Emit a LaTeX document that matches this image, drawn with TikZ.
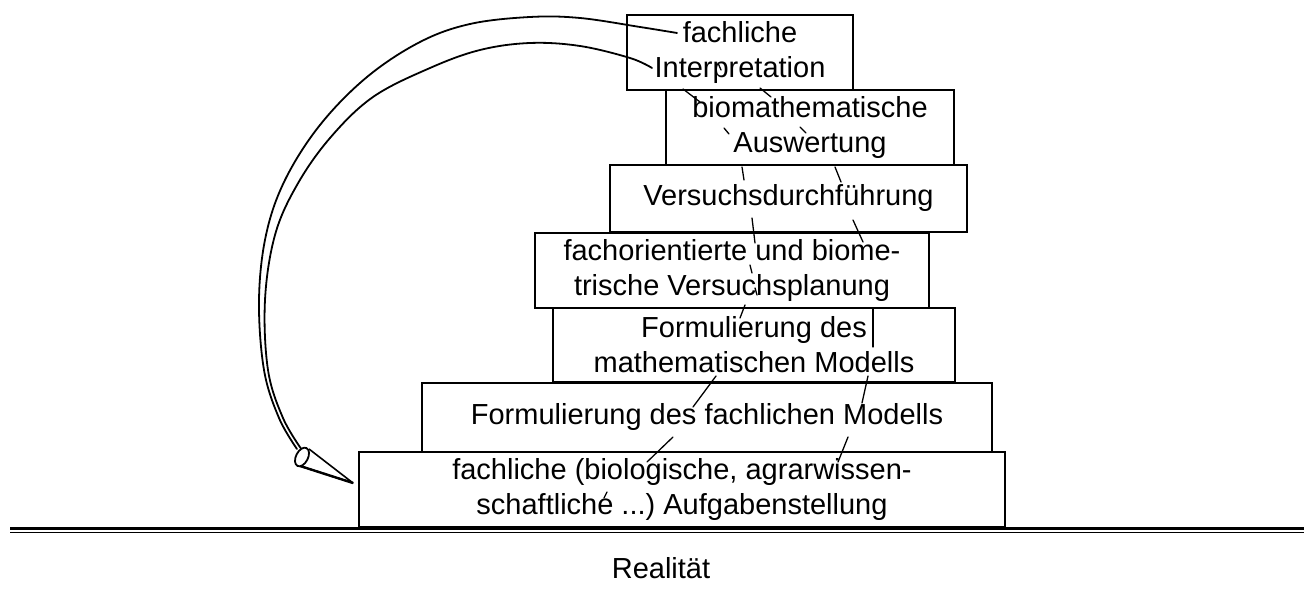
\documentclass[tikz,border=0pt]{standalone}
\usepackage{fontspec}
\setmainfont{Liberation Sans}
\frenchspacing
\begin{document}
\begin{tikzpicture}[x=1pt,y=-1pt,
  stair/.style={draw, line width=2pt, rectangle, inner sep=0pt, align=center,
    font=\fontsize{29}{35}\selectfont},
  tick/.style={line width=1.3pt, line cap=round},
  curve/.style={line width=1.8pt, line cap=round}]
\useasboundingbox (0,0) rectangle (1304,601);
% boxes
\node[stair, minimum width=226, minimum height=75] (b1) at (740,52.5) {fachliche\\Interpretation};
\node[stair, minimum width=288, minimum height=75] (b2) at (810,127.5) {biomathematische\\Auswertung};
\node[stair, minimum width=357, minimum height=67] (b3) at (788.5,198.5) {Versuchsdurchführung};
\node[stair, minimum width=394, minimum height=75] (b4) at (732,270.5) {fachorientierte und biome-\\trische Versuchsplanung};
\node[stair, minimum width=402, minimum height=74] (b5) at (754,345) {Formulierung des\\mathematischen Modells};
\node[stair, minimum width=570, minimum height=69] (b6) at (707,417.5) {Formulierung des fachlichen Modells};
\node[stair, minimum width=646, minimum height=75] (b7) at (682,489.5) {fachliche (biologische, agrarwissen-\\schaftliche ...)\ Aufgabenstellung};
% ground
\coordinate (gl) at (10,528);
\coordinate (gr) at (1304,528);
\draw[line width=3pt] (gl) -- (gr);
\draw[line width=1.4pt] ([yshift=-4.5pt]gl) -- ([yshift=-4.5pt]gr);
\node[font=\fontsize{29}{35}\selectfont, inner sep=0pt] (real) at (661,568) {Realität};
% spiral ticks
\draw[tick] (718,63) -- (721,70);
\draw[tick] (683,89) -- (700,102);
\draw[tick] (760,88) -- (771,97);
\draw[tick] (724,128) -- (729,134);
\draw[tick] (800,127) -- (806,133);
\draw[tick] (742,167) -- (744,180);
\draw[tick] (835,167) -- (841,182);
\draw[tick] (752,218) -- (755,243);
\draw[tick] (853,220) -- (863,242);
\draw[tick] (750,265) -- (752,273);
\draw[tick] (755,288) -- (757,295);
\draw[tick] (745,305) -- (740,318);
\draw[tick] (873,308) -- (873,347);
\draw[tick] (716,376) -- (693,407);
\draw[tick] (868,376) -- (862,403);
\draw[tick] (673,437) -- (647,462);
\draw[tick] (848,437) -- (838,462);
\draw[tick] (604,498) -- (607,492);
% big return arrow
\coordinate (oa) at (677,33);
\coordinate (ia) at (652,68);
\draw[curve] plot[smooth, tension=0.6] coordinates {(oa) (640,27) (580,18) (530,17) (470,24) (420,42) (367,77) (320,125) (285,180) (266,235) (259,300) (264,370) (279,418) (297,449)};
\draw[curve] plot[smooth, tension=0.6] coordinates {(ia) (630,58) (580,46) (530,43) (480,50) (430,68) (373,97) (330,138) (297,185) (275,235) (265,300) (268,370) (283,418) (302,450)};
\coordinate (ec) at (302,457);
\coordinate (tip) at (353,483);
\draw[line width=1.6pt, line join=round, fill=white] (309,449) -- (tip) -- (297,465);
\draw[line width=2.4pt] (297,465) -- (tip);
\draw[line width=1.8pt, fill=white, rotate around={63:(ec)}] (ec) ellipse [x radius=10, y radius=6];
\end{tikzpicture}
\end{document}
